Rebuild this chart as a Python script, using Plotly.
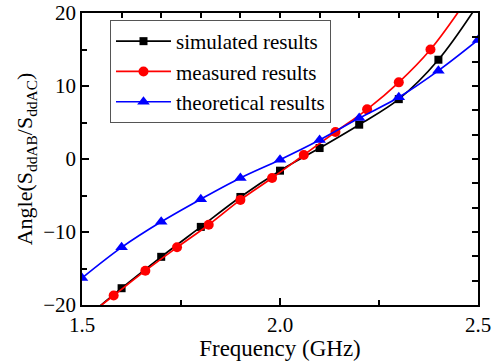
import plotly.graph_objects as go

# ---- data ----
sim_freq = [1.5, 1.6, 1.7, 1.8, 1.9, 2.0, 2.1, 2.2, 2.3, 2.4, 2.5]
sim_angle = [-22.2, -17.7, -13.4, -9.3, -5.2, -1.6, 1.5, 4.7, 8.2, 13.6, 21.2]

meas_freq = [1.50, 1.58, 1.66, 1.74, 1.82, 1.90, 1.98, 2.06, 2.14, 2.22, 2.30, 2.38, 2.46]
meas_angle = [-22.1, -18.7, -15.3, -12.1, -9.0, -5.6, -2.6, 0.55, 3.7, 6.8, 10.5, 15.0, 20.9]

theo_freq = [1.5, 1.6, 1.7, 1.8, 1.9, 2.0, 2.1, 2.2, 2.3, 2.4, 2.5]
theo_angle = [-16.3, -12.1, -8.6, -5.5, -2.6, -0.1, 2.6, 5.6, 8.45, 12.1, 16.3]

series_names = ["simulated results", "measured results", "theoretical results"]

FONT = "'Times New Roman', 'Liberation Serif', Times, serif"

fig = go.Figure()

specs = [
    (series_names[0], sim_freq, sim_angle, sim_freq[1:-1], sim_angle[1:-1], "black", "square", 8),
    (series_names[1], meas_freq, meas_angle, meas_freq[1:-1], meas_angle[1:-1], "red", "circle", 10),
    (series_names[2], theo_freq, theo_angle, theo_freq, theo_angle, "blue", "triangle-up", 11),
]

for name, lx, ly, mx, my, color, sym, msize in specs:
    fig.add_trace(go.Scatter(x=lx, y=ly, mode="lines", line=dict(color=color, width=1.7, shape="spline"),
                             showlegend=False, hoverinfo="skip"))
    fig.add_trace(go.Scatter(x=mx, y=my, mode="markers",
                             marker=dict(color=color, symbol=sym, size=msize, line=dict(width=0)),
                             showlegend=False, cliponaxis=True))

for name, lx, ly, mx, my, color, sym, msize in specs:
    fig.add_trace(go.Scatter(x=[None], y=[None], mode="lines+markers", name=name,
                             line=dict(color=color, width=1.7),
                             marker=dict(color=color, symbol=sym, size=msize)))

# invisible trace for mirror axes
fig.add_trace(go.Scatter(x=[None], y=[None], xaxis="x2", yaxis="y2", showlegend=False, hoverinfo="skip"))

axis_line = dict(showline=True, linecolor="black", linewidth=1.6, showgrid=False, zeroline=False,
                 automargin=False)

fig.update_layout(
    width=499, height=361,
    margin=dict(l=82, r=21, t=13, b=56),
    paper_bgcolor="white", plot_bgcolor="white",
    font=dict(family=FONT, color="black", size=21),
    xaxis=dict(range=[1.5, 2.5], tick0=1.5, dtick=0.5, tickformat=".1f",
               ticks="inside", ticklen=7, tickwidth=1.5, tickcolor="black",
               minor=dict(dtick=0.25, ticks="inside", ticklen=5, tickwidth=1.5, tickcolor="black"),
               title=dict(text="Frequency (GHz)", font=dict(family=FONT, size=23), standoff=0),
               tickfont=dict(family=FONT, size=21), **axis_line),
    yaxis=dict(range=[-20, 20], tick0=0, dtick=10,
               ticks="inside", ticklen=7, tickwidth=1.5, tickcolor="black",
               minor=dict(dtick=5, ticks="inside", ticklen=5, tickwidth=1.5, tickcolor="black"),
               title=dict(text="Angle(S<sub>ddAB</sub>/S<sub>ddAC</sub>)", font=dict(family=FONT, size=22), standoff=4),
               tickfont=dict(family=FONT, size=21), **axis_line),
    xaxis2=dict(overlaying="x", side="top", anchor="y2", range=[1.5, 2.5], tick0=1.5, dtick=0.1,
                ticks="inside", ticklen=5, tickwidth=1.5, tickcolor="black", showticklabels=False,
                **axis_line),
    yaxis2=dict(overlaying="y", side="right", anchor="x2", range=[0, 12], tick0=0, dtick=1,
                ticks="inside", ticklen=6, tickwidth=1.5, tickcolor="black", showticklabels=False,
                **axis_line),
    legend=dict(x=0.0707, y=0.976, xanchor="left", yanchor="top",
                bgcolor="white", bordercolor="#555555", borderwidth=1,
                font=dict(family=FONT, size=21), itemwidth=55, tracegroupgap=0),
)

fig.write_html("out.html")
